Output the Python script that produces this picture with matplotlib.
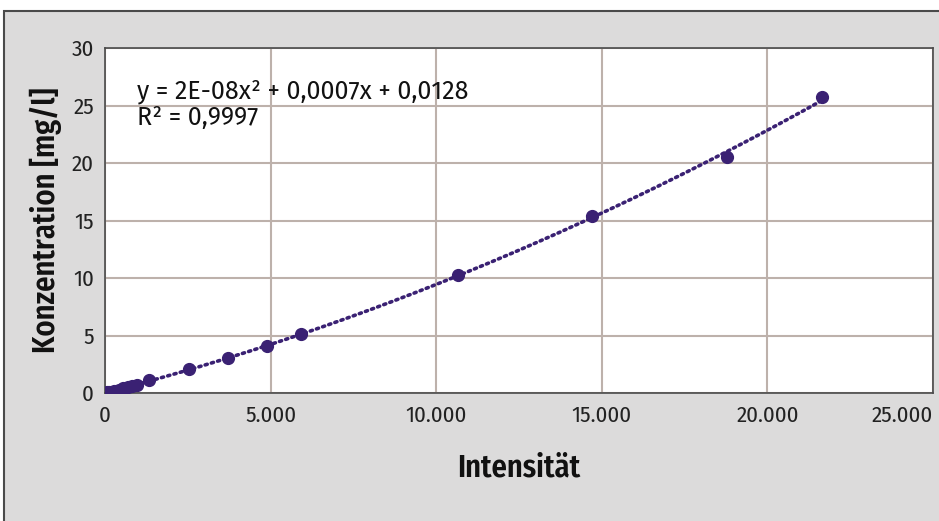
import numpy as np
import matplotlib
matplotlib.use("Agg")
import matplotlib.pyplot as plt
from matplotlib.patches import Rectangle
from matplotlib.ticker import FuncFormatter, MultipleLocator

intensitaet = [0, 60, 130, 270, 410, 550, 690, 820, 960,
               1320, 2530, 3700, 4880, 5930, 10660, 14700, 18770, 21650]
konzentration = [0, 0.05, 0.1, 0.2, 0.3, 0.4, 0.5, 0.6, 0.7,
                 1.1, 2.1, 3.05, 4.1, 5.1, 10.3, 15.35, 20.55, 25.7]
x_ticks = [0, 5000, 10000, 15000, 20000, 25000]

gleichung = "y = 2E-08x² + 0,0007x + 0,0128"
bestimmtheit = "R² = 0,9997"

plt.rcParams['font.family'] = ['Fira Sans Condensed', 'DejaVu Sans']

farbe = '#3a2173'

fig = plt.figure(figsize=(9.39, 5.21), dpi=100, facecolor='white')
fig.patches.append(Rectangle((4 / 939, -0.1), 1.2, (521 - 11) / 521 + 0.1,
                             transform=fig.transFigure, facecolor='#dcdbdb',
                             edgecolor='#4a4a4a', lw=1.5, zorder=-10))

ax = fig.add_axes([105 / 939, (521 - 393) / 521, 828 / 939, 345 / 521])
ax.set_facecolor('white')

# Trendlinie (Polynom 2. Ordnung)
koeff = np.polyfit(intensitaet, konzentration, 2)
xs = np.linspace(0, max(intensitaet), 300)
ax.plot(xs, np.polyval(koeff, xs), ls=(0, (0.6, 1.2)), lw=2.6, color=farbe,
        dash_capstyle='round', zorder=3)
ax.plot(intensitaet, konzentration, 'o', ms=8.5, color=farbe, zorder=4)

ax.set_xlim(0, 25000)
ax.set_ylim(0, 30)
ax.set_xticks(x_ticks)
ax.yaxis.set_major_locator(MultipleLocator(5))
ax.xaxis.set_major_formatter(FuncFormatter(lambda v, p: f"{int(v):,}".replace(',', '.')))
ax.grid(True, color='#bdb1ab', lw=1.5)
ax.set_axisbelow(True)
for s in ax.spines.values():
    s.set_color('#4a4a4a')
    s.set_linewidth(1.2)
ax.tick_params(length=0, labelsize=16.5, colors='#222222')
ax.tick_params(axis='x', pad=9)
ax.tick_params(axis='y', pad=8)

# letzte x-Beschriftung nach innen ruecken wie im Original
ax.xaxis.get_major_ticks()[-1].label1.set_horizontalalignment('right')

ax.set_xlabel("Intensität", fontsize=22, fontweight=600, labelpad=19, color='#111111')
ax.set_ylabel("Konzentration [mg/l]", fontsize=22, fontweight=600, labelpad=7, color='#111111')

ax.text(0.039, 0.875, gleichung, transform=ax.transAxes, fontsize=18, va='center',
        color='#111111', family=['Fira Sans', 'DejaVu Sans'], fontweight=400)
ax.text(0.039, 0.797, bestimmtheit, transform=ax.transAxes, fontsize=18, va='center',
        color='#111111', family=['Fira Sans', 'DejaVu Sans'], fontweight=400)

fig.savefig("out.png", dpi=100)
